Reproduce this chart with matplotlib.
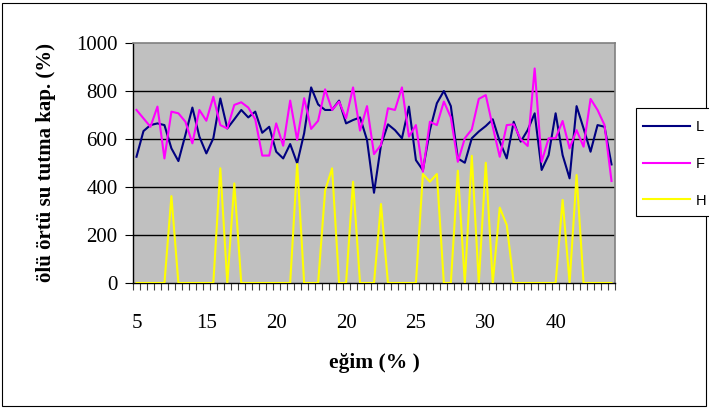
import matplotlib
matplotlib.use("Agg")
import matplotlib.pyplot as plt
from matplotlib.patches import Rectangle
import numpy as np

# Water holding capacity of the litter layer (%) for three series along the slope axis
L = [526, 633, 658, 665, 658, 561, 508, 617, 731, 610,
     540, 603, 769, 644, 682, 721, 690, 714, 626, 651,
     547, 519, 579, 499, 624, 815, 744, 721, 721, 760,
     665, 679, 690, 596, 376, 575, 661, 637, 603, 735,
     512, 470, 637, 749, 800, 737, 519, 501, 603, 631,
     654, 682, 590, 519, 672, 589, 637, 707, 471, 533,
     707, 533, 436, 737, 644, 547, 658, 651, 494]

F = [721, 686, 651, 735, 519, 714, 707, 672, 582, 721,
     676, 776, 658, 644, 742, 753, 731, 682, 531, 531,
     665, 572, 760, 596, 770, 642, 676, 807, 721, 756,
     686, 815, 635, 737, 537, 575, 728, 721, 815, 610,
     658, 464, 672, 658, 756, 690, 505, 603, 640, 767,
     783, 651, 526, 658, 661, 599, 571, 894, 505, 603,
     603, 675, 561, 637, 568, 767, 721, 658, 425]

H = [0, 0, 0, 0, 0, 362, 0, 0, 0, 0,
     0, 0, 478, 0, 415, 0, 0, 0, 0, 0,
     0, 0, 0, 496, 0, 0, 0, 385, 478, 0,
     0, 422, 0, 0, 0, 329, 0, 0, 0, 0,
     0, 454, 422, 454, 0, 0, 468, 0, 530, 0,
     501, 0, 314, 242, 0, 0, 0, 0, 0, 0,
     0, 346, 0, 450, 0, 0, 0, 0, 0]

# category labels shown every tenth slope class
tick_labels = ["5", "15", "20", "20", "25", "30", "40"]
label_every = 10

series = [("L", L, "#000080"), ("F", F, "#FF00FF"), ("H", H, "#FFFF00")]

W, Hpx = 709, 408
fig = plt.figure(figsize=(W / 100, Hpx / 100), dpi=100)
fig.patch.set_facecolor("white")

# outer chart frame
fig.patches.append(Rectangle((2 / W, 2 / Hpx), (W - 5) / W, (Hpx - 5) / Hpx,
                             transform=fig.transFigure, fill=False,
                             edgecolor="black", linewidth=0.8))

left, right, top, bottom = 133, 615, 43, 283
ax = fig.add_axes([left / W, 1 - bottom / Hpx, (right - left) / W, (bottom - top) / Hpx])
ax.set_facecolor("#C0C0C0")

n = len(L)
x = np.arange(n) + 0.5
for name, vals, col in series:
    ax.plot(x, vals, color=col, linewidth=1.5, label=name, zorder=3)

ax.set_xlim(0, n)
ax.set_ylim(0, 1000)

serif = "Liberation Serif"

# y axis
yt = np.arange(0, 1001, 200)
ax.set_yticks(yt)
ax.set_yticklabels([str(v) for v in yt], fontfamily=serif, fontsize=15)
for v in yt[1:-1]:
    ax.axhline(v, color="black", linewidth=1.0, zorder=1)
ax.tick_params(axis="y", direction="out", length=6, width=0.8, pad=5)

# x axis: tick marks between categories, labels at category centres
ax.set_xticks(np.arange(0, n + 1))
ax.set_xticklabels([])
ax.tick_params(axis="x", which="major", direction="out", length=5, width=0.8, color="#404040")
lab_pos = [i + 0.5 for i in range(0, n, label_every)][:len(tick_labels)]
ax.set_xticks(lab_pos, minor=True)
ax.set_xticklabels(tick_labels, minor=True, fontfamily=serif, fontsize=15)
ax.tick_params(axis="x", which="minor", length=0, pad=22)

for s in ["top", "right"]:
    ax.spines[s].set_color("#808080")
    ax.spines[s].set_linewidth(1.2)
for s in ["left", "bottom"]:
    ax.spines[s].set_color("black")
    ax.spines[s].set_linewidth(1.0)

ax.set_ylabel("ölü örtü su tutma kap. (%)", fontfamily=serif,
              fontweight="bold", fontsize=15)
ax.yaxis.set_label_coords((56 - left) / (right - left), 0.5)
ax.set_xlabel("eğim (% )", fontfamily=serif, fontweight="bold", fontsize=15.5)
ax.xaxis.set_label_coords(0.5, -(353 - bottom) / (bottom - top))

# legend: frame drawn as its own box, running past the right edge
fig.patches.append(Rectangle((636 / W, 1 - 216 / Hpx), 80 / W, 108 / Hpx,
                             transform=fig.transFigure, facecolor="white",
                             edgecolor="black", linewidth=0.8, zorder=2))
leg = fig.legend(loc="upper left", bbox_to_anchor=(636 / W, 1 - 113 / Hpx),
                 prop={"family": "Liberation Sans", "size": 10.5},
                 frameon=False, handlelength=3.2, handletextpad=0.4,
                 labelspacing=1.55, borderpad=0.5, borderaxespad=0)
leg.set_zorder(3)
for h in leg.get_lines():
    h.set_linewidth(1.5)

fig.savefig("out.png", dpi=100)
